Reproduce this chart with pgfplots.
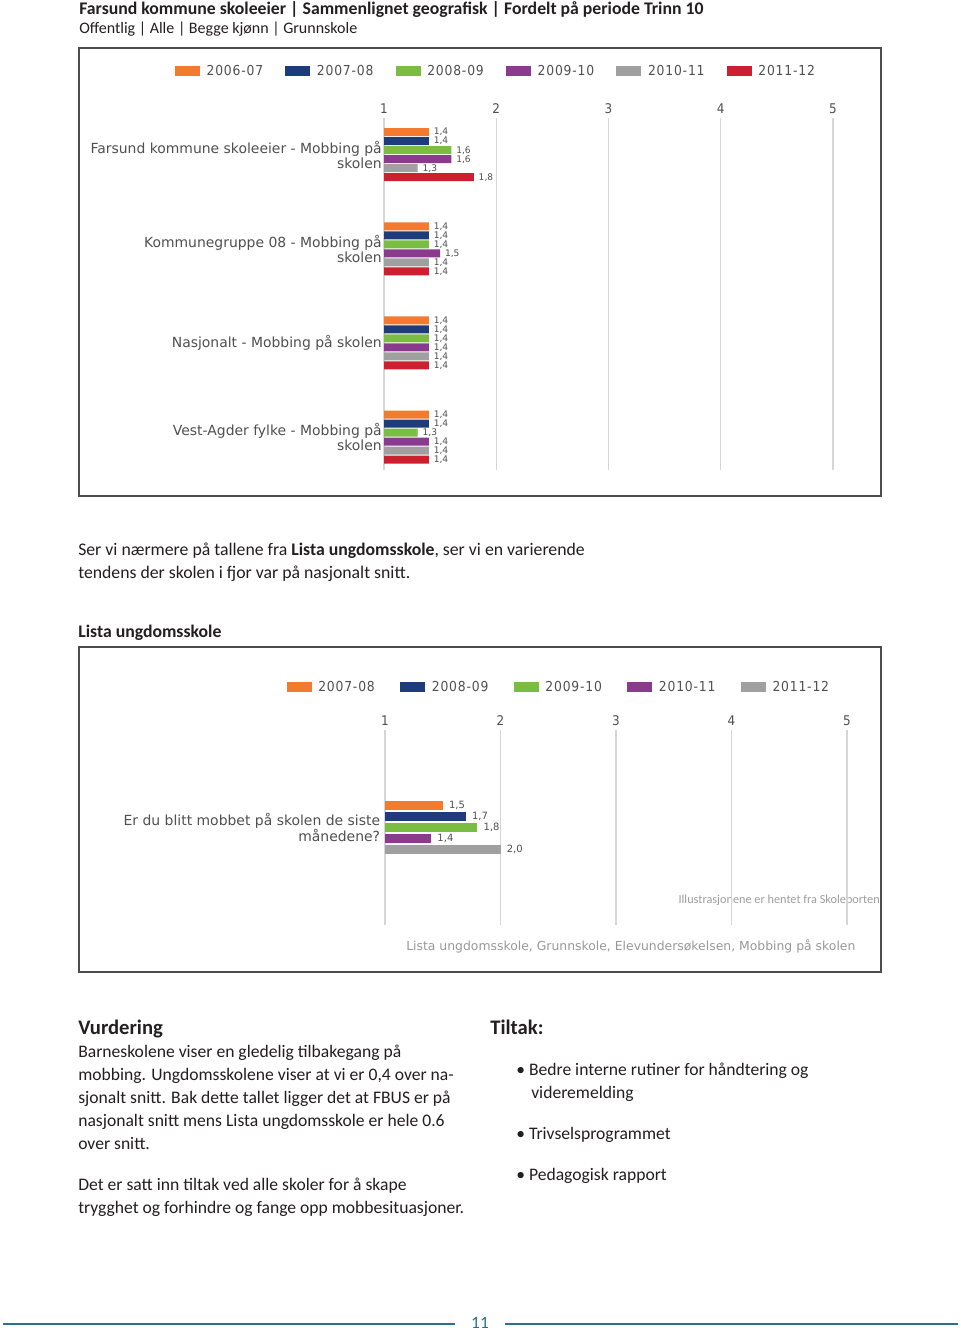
\documentclass[border=0pt]{standalone}
\usepackage{fontspec}
\setmainfont{Carlito}
\newfontfamily\dv{DejaVu Sans}
\newfontfamily\dvc[LetterSpace=6]{DejaVu Sans Condensed}
\usepackage{pgfplots}
\pgfplotsset{compat=1.18}
\definecolor{cOr}{HTML}{F47A30}
\definecolor{cBl}{HTML}{1F3C7A}
\definecolor{cGr}{HTML}{79BE43}
\definecolor{cPu}{HTML}{8A3B8F}
\definecolor{cGy}{HTML}{A0A0A0}
\definecolor{cRd}{HTML}{CC2030}
\definecolor{txt}{HTML}{231F20}
\definecolor{lab}{HTML}{505050}
\definecolor{gridc}{HTML}{D6D6D6}
\definecolor{teal}{HTML}{2C6F91}
\pgfplotsset{
  mychart/.style={
    scale only axis, xbar,
    xmin=1, xmax=5,
    xtick={1,2,3,4,5}, xticklabels={1,2,3,4,5}, xticklabel pos=upper,
    axis line style={draw=none}, major tick length=0pt, tick style={draw=none},
    xmajorgrids, grid style={draw=gridc, line width=1.1pt},
    xticklabel style={font=\dvc\fontsize{10}{10}\selectfont, text=lab},
    yticklabel style={font=\dv\fontsize{10.45}{11.4}\selectfont, text=lab, align=right, inner sep=1.5pt},
    point meta=x,
    nodes near coords={\pgfmathprintnumber{\pgfplotspointmeta}},
    /pgf/number format/fixed, /pgf/number format/fixed zerofill,
    /pgf/number format/precision=1, /pgf/number format/use comma,
    /pgf/number format/assume math mode=true,
    legend image code/.code={\fill[##1] (0pt,-3.75pt) rectangle (18.75pt,3.75pt);},
    legend style={draw=none, fill=none, font=\dvc\fontsize{10.3}{11}\selectfont, text=lab,
      /tikz/every odd column/.append style={column sep=3pt}},
  }
}
\begin{document}
\begin{tikzpicture}
\begin{scope}[x=0.75pt,y=-0.75pt]
\useasboundingbox (0,0) rectangle (960,1330);
\fill[white] (0,0) rectangle (960,1330);
\draw[draw=black!70, line width=0.8pt] (79,48) rectangle (881,496);
\draw[draw=black!70, line width=0.8pt] (79,647) rectangle (881,972);
\node[anchor=base west, inner sep=0, text=txt, font=\bfseries\fontsize{13.3}{15}\selectfont] at (79,14.5) {Farsund kommune skoleeier | Sammenlignet geografisk | Fordelt på periode Trinn 10};
\node[anchor=base west, inner sep=0, text=txt, font=\fontsize{12}{14}\selectfont] at (79,34) {Offentlig | Alle | Begge kjønn | Grunnskole};
\node[anchor=base west, inner sep=0, text=txt, font=\fontsize{13.3}{15}\selectfont] at (78,555) {Ser vi nærmere på tallene fra \textbf{Lista ungdomsskole}, ser vi en varierende};
\node[anchor=base west, inner sep=0, text=txt, font=\fontsize{13.3}{15}\selectfont] at (78,578) {tendens der skolen i fjor var på nasjonalt snitt.};
\node[anchor=base west, inner sep=0, text=txt, font=\bfseries\fontsize{13.3}{15}\selectfont] at (78,637) {Lista ungdomsskole};
\node[anchor=base east, inner sep=0, text=black!38, font=\fontsize{9.2}{10}\selectfont] at (880,903) {Illustrasjonene er hentet fra Skoleporten};
\node[anchor=base west, inner sep=0, text=black!40, font=\dv\fontsize{9.3}{10}\selectfont] at (406,950) {Lista ungdomsskole, Grunnskole, Elevundersøkelsen, Mobbing på skolen};
\node[anchor=base west, inner sep=0, text=txt, font=\bfseries\fontsize{15.5}{18}\selectfont] at (78,1034) {Vurdering};
\foreach \t/\y in {{Barneskolene viser en gledelig tilbakegang på}/1057,
  {mobbing. Ungdomsskolene viser at vi er 0,4 over na-}/1080,
  {sjonalt snitt. Bak dette tallet ligger det at FBUS er på}/1103,
  {nasjonalt snitt mens Lista ungdomsskole er hele 0.6}/1126,
  {over snitt.}/1149,
  {Det er satt inn tiltak ved alle skoler for å skape}/1190,
  {trygghet og forhindre og fange opp mobbesituasjoner.}/1213}
  \node[anchor=base west, inner sep=0, text=txt, font=\fontsize{13.2}{15}\selectfont] at (78,\y) {\t};
\node[anchor=base west, inner sep=0, text=txt, font=\bfseries\fontsize{15.5}{18}\selectfont] at (490,1034) {Tiltak:};
\node[anchor=base west, inner sep=0, text=txt, font=\fontsize{13.2}{15}\selectfont] at (516,1075) {• Bedre interne rutiner for håndtering og};
\node[anchor=base west, inner sep=0, text=txt, font=\fontsize{13.2}{15}\selectfont] at (531,1098) {videremelding};
\node[anchor=base west, inner sep=0, text=txt, font=\fontsize{13.2}{15}\selectfont] at (516,1139) {• Trivselsprogrammet};
\node[anchor=base west, inner sep=0, text=txt, font=\fontsize{13.2}{15}\selectfont] at (516,1180) {• Pedagogisk rapport};
\draw[teal, line width=1.6pt] (3,1324) -- (455,1324);
\draw[teal, line width=1.6pt] (505,1324) -- (958,1324);
\node[anchor=base, inner sep=0, text=teal, font=\fontsize{13}{14}\selectfont] at (480,1328) {11};
\end{scope}

\begin{axis}[mychart,
  at={(288pt,-352.5pt)}, anchor=south west,
  width=336.75pt, height=264pt,
  ymin=-0.35, ymax=3.39, bar width=6pt,
  ytick={0,1,2,3},
  yticklabels={{Vest-Agder fylke - Mobbing på\\skolen},{Nasjonalt - Mobbing på skolen},{Kommunegruppe 08 - Mobbing på\\skolen},{Farsund kommune skoleeier - Mobbing på\\skolen}},
  nodes near coords style={font=\dv\fontsize{6.8}{7}\selectfont, text=lab, anchor=west, inner sep=1pt, xshift=2.5pt},
  legend columns=6,
  legend style={at={(0.25,1.133)}, anchor=center, /tikz/every even column/.append style={column sep=14.6pt}},
]
\addplot[fill=cOr, draw=none, bar shift=16.875pt] coordinates {(1.4,3) (1.4,2) (1.4,1) (1.4,0)};
\addplot[fill=cBl, draw=none, bar shift=10.125pt] coordinates {(1.4,3) (1.4,2) (1.4,1) (1.4,0)};
\addplot[fill=cGr, draw=none, bar shift=3.375pt] coordinates {(1.6,3) (1.4,2) (1.4,1) (1.3,0)};
\addplot[fill=cPu, draw=none, bar shift=-3.375pt] coordinates {(1.6,3) (1.5,2) (1.4,1) (1.4,0)};
\addplot[fill=cGy, draw=none, bar shift=-10.125pt] coordinates {(1.3,3) (1.4,2) (1.4,1) (1.4,0)};
\addplot[fill=cRd, draw=none, bar shift=-16.875pt] coordinates {(1.8,3) (1.4,2) (1.4,1) (1.4,0)};
\legend{2006-07,2007-08,2008-09,2009-10,2010-11,2011-12}
\end{axis}

\begin{axis}[mychart,
  at={(288.75pt,-693.75pt)}, anchor=south west,
  width=346.5pt, height=146.25pt,
  ymin=-1, ymax=1, bar width=7pt,
  ytick={0},
  yticklabels={{Er du blitt mobbet på skolen de siste\\månedene?}},
  yticklabel style={xshift=-2pt},
  nodes near coords style={font=\dv\fontsize{7.5}{8}\selectfont, text=lab, anchor=west, inner sep=1pt, xshift=3.5pt},
  legend columns=5,
  legend style={at={(0.377,1.221)}, anchor=center, /tikz/every even column/.append style={column sep=17pt}},
]
\addplot[fill=cOr, draw=none, bar shift=16.5pt] coordinates {(1.5,0)};
\addplot[fill=cBl, draw=none, bar shift=8.25pt] coordinates {(1.7,0)};
\addplot[fill=cGr, draw=none, bar shift=0pt] coordinates {(1.8,0)};
\addplot[fill=cPu, draw=none, bar shift=-8.25pt] coordinates {(1.4,0)};
\addplot[fill=cGy, draw=none, bar shift=-16.5pt] coordinates {(2.0,0)};
\legend{2007-08,2008-09,2009-10,2010-11,2011-12}
\end{axis}
\end{tikzpicture}
\end{document}
